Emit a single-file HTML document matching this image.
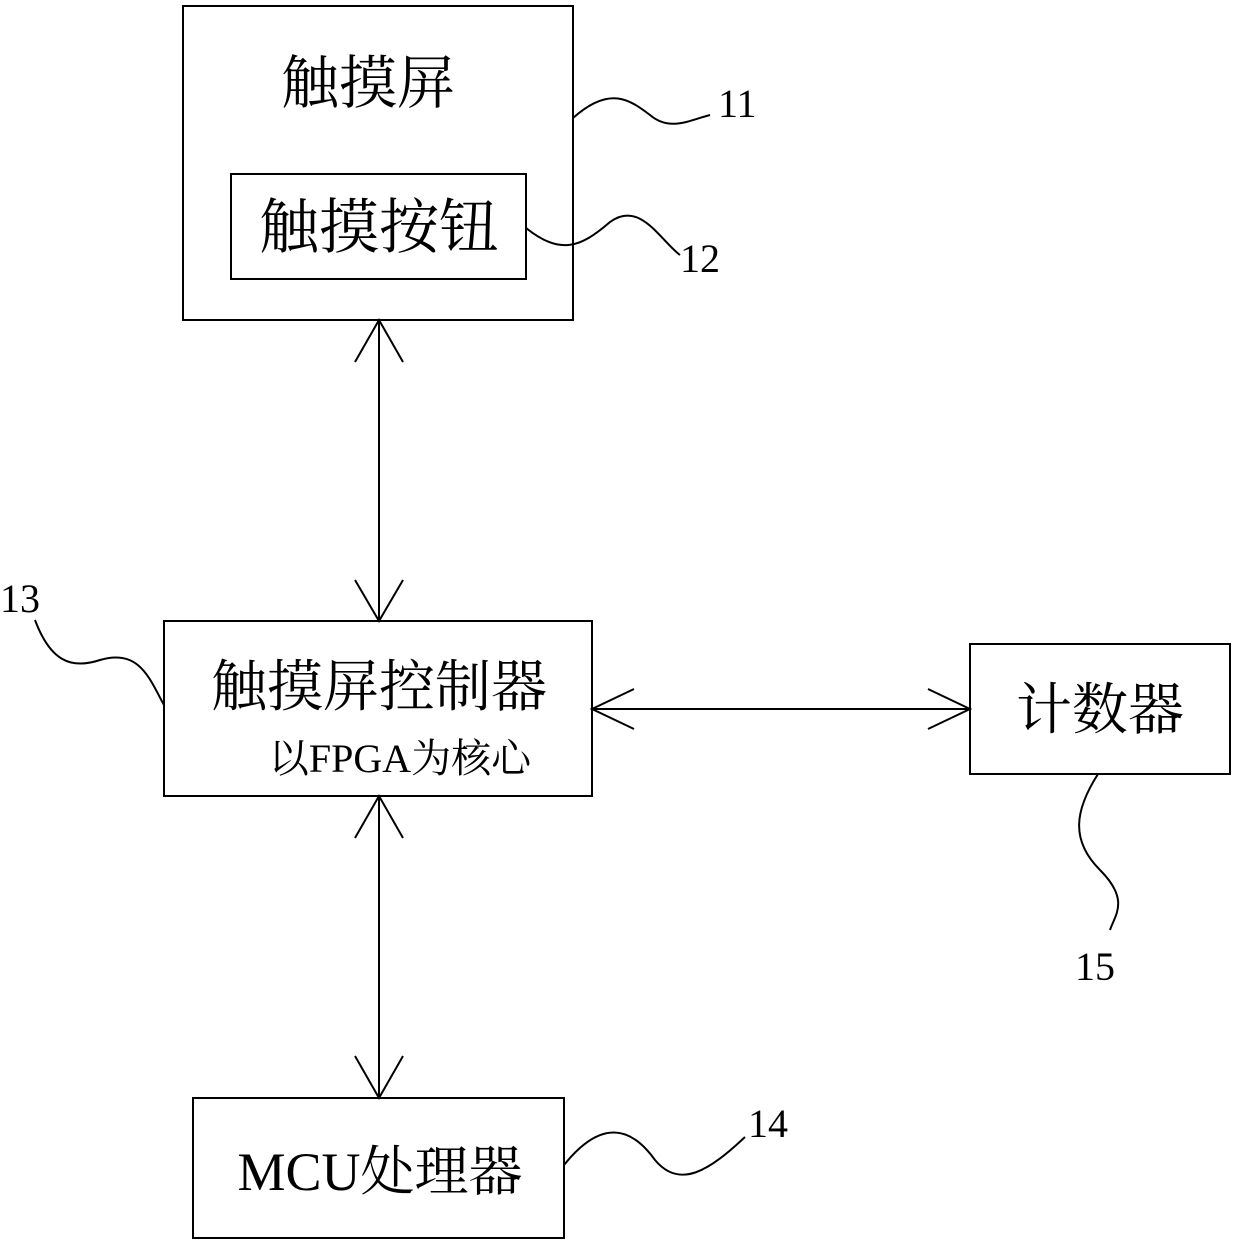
<!DOCTYPE html>
<html><head><meta charset="utf-8"><style>
html,body{margin:0;padding:0;background:#fff;}
svg{display:block}
.c{font-family:"Liberation Serif","Noto Serif CJK SC","Noto Sans CJK SC",serif;fill:#000}
.n{font-family:"Liberation Serif",serif;font-size:40px;fill:#000}
</style></head><body>
<svg width="1240" height="1248" viewBox="0 0 1240 1248" xmlns="http://www.w3.org/2000/svg">
<g fill="none" stroke="#000" stroke-width="2">
<rect x="183" y="6" width="390" height="314"/>
<rect x="231" y="174" width="295" height="105"/>
<rect x="164" y="621" width="428" height="175"/>
<rect x="970" y="644" width="260" height="130"/>
<rect x="193" y="1098" width="371" height="140"/>
<line x1="379" y1="320" x2="379" y2="621"/>
<polyline points="355,362 379,320 403,362"/>
<polyline points="355,580 379,621 403,580"/>
<line x1="379" y1="796" x2="379" y2="1098"/>
<polyline points="355,838 379,796 403,838"/>
<polyline points="355,1056 379,1098 403,1056"/>
<line x1="592" y1="709" x2="970" y2="709"/>
<polyline points="634,689 592,709 634,729"/>
<polyline points="928,689 970,709 928,729"/>
<path d="M573,118 C610,85 630,100 650,115 C670,132 690,120 710,115"/>
<path d="M526,228 C560,255 580,248 610,222 C640,200 660,240 680,255"/>
<path d="M35,620 C50,660 70,670 100,660 C140,648 150,680 164,705"/>
<path d="M564,1165 C600,1120 630,1125 655,1160 C680,1190 710,1170 745,1137"/>
<path d="M1098,774 C1075,810 1070,840 1100,870 C1130,900 1115,915 1110,930"/>
</g>
<text class="c" x="368" y="103" font-size="58" text-anchor="middle">触摸屏</text>
<text class="c" x="379" y="248" font-size="60" text-anchor="middle">触摸按钮</text>
<text class="c" x="379" y="706" font-size="56" text-anchor="middle">触摸屏控制器</text>
<text class="c" x="400" y="772" font-size="40" text-anchor="middle">以FPGA为核心</text>
<text class="c" x="1100" y="729" font-size="56" text-anchor="middle">计数器</text>
<text class="c" x="380" y="1190" font-size="54" text-anchor="middle">MCU处理器</text>
<text class="n" x="718" y="117">11</text>
<text class="n" x="680" y="272">12</text>
<text class="n" x="0" y="612">13</text>
<text class="n" x="748" y="1137">14</text>
<text class="n" x="1075" y="980">15</text>
</svg>
</body></html>
